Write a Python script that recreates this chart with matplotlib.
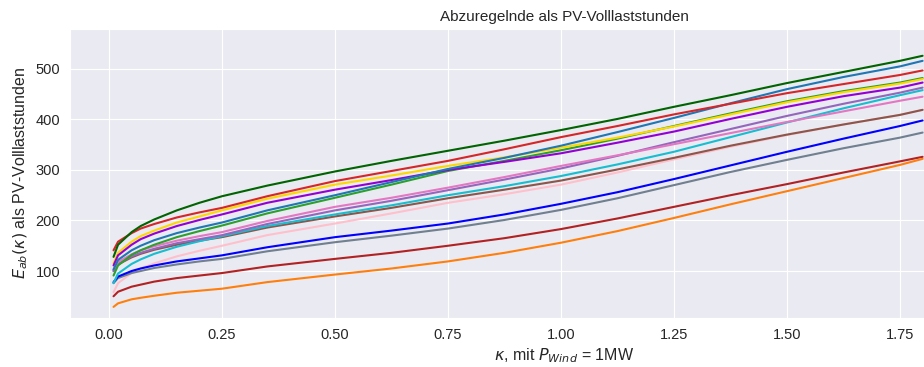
"""
Abzuregelnde Energie als PV-Volllaststunden ueber kappa
"""
import matplotlib
matplotlib.use('Agg')
import matplotlib.pyplot as plt
import seaborn as sns

# kappa sample points
kappa = [0.01, 0.02, 0.05, 0.07, 0.1, 0.15, 0.2, 0.25, 0.35, 0.5, 0.625, 0.75, 0.875,
         1.0, 1.125, 1.25, 1.375, 1.5, 1.625, 1.75, 1.80]

# E_ab(kappa) per curve
e_darkgreen = [128, 152, 177, 189, 202, 220, 235, 248, 269, 297, 318, 338, 358,
               379, 401, 425, 448, 472, 494, 516, 526]
e_red = [141, 158, 175, 184, 193, 206, 216, 225, 248, 278, 298, 318, 341,
         365, 387, 410, 431, 452, 470, 488, 497]
e_steelblue = [103, 122, 141, 150, 161, 175, 186, 196, 220, 250, 276, 302, 324,
               348, 375, 403, 432, 460, 484, 505, 516]
e_gold = [115, 136, 158, 169, 180, 196, 208, 220, 243, 271, 289, 308, 325,
          344, 364, 386, 410, 434, 454, 471, 480]
e_darkviolet = [111, 131, 152, 163, 174, 189, 201, 212, 235, 261, 280, 300, 316,
                333, 354, 376, 401, 425, 446, 463, 473]
e_green = [91, 111, 132, 141, 152, 167, 179, 190, 214, 245, 271, 298, 318,
           339, 362, 387, 412, 436, 456, 473, 482]
e_orchid = [103, 118, 133, 141, 149, 160, 169, 177, 199, 227, 245, 265, 286,
            308, 329, 351, 373, 395, 416, 437, 445]
e_mediumpurple = [100, 114, 129, 136, 144, 155, 163, 171, 193, 220, 239, 260, 281,
                  303, 328, 355, 381, 407, 431, 453, 463]
e_cyan = [76, 95, 114, 123, 134, 148, 159, 169, 189, 212, 230, 250, 268,
          288, 311, 336, 365, 394, 422, 448, 458]
e_brown = [100, 113, 127, 134, 142, 152, 160, 167, 186, 208, 225, 244, 261,
           279, 301, 324, 348, 370, 390, 409, 419]
e_pink = [58, 76, 96, 105, 115, 129, 140, 150, 171, 194, 214, 235, 252,
          271, 295, 321, 346, 369, 390, 409, 419]
e_blue = [78, 89, 100, 105, 111, 119, 125, 131, 147, 167, 180, 194, 212,
          233, 256, 282, 309, 336, 362, 387, 398]
e_gray = [76, 86, 96, 100, 106, 113, 119, 124, 139, 157, 170, 184, 201,
          221, 244, 270, 296, 320, 343, 364, 374]
e_firebrick = [50, 59, 69, 73, 79, 86, 91, 96, 109, 124, 136, 150, 165,
               183, 204, 227, 250, 272, 295, 317, 326]
e_orange = [29, 36, 44, 47, 51, 57, 61, 65, 78, 93, 105, 119, 136,
            156, 179, 205, 232, 258, 284, 310, 322]

series = [
    (e_pink, 'pink'),
    (e_brown, 'tab:brown'),
    (e_gray, 'slategray'),
    (e_blue, 'blue'),
    (e_cyan, 'tab:cyan'),
    (e_mediumpurple, 'tab:purple'),
    (e_orchid, 'tab:pink'),
    (e_green, 'tab:green'),
    (e_gold, 'gold'),
    (e_darkviolet, 'darkviolet'),
    (e_steelblue, 'tab:blue'),
    (e_red, 'tab:red'),
    (e_darkgreen, 'darkgreen'),
    (e_firebrick, 'firebrick'),
    (e_orange, 'tab:orange'),
]

sns.set_style('darkgrid')
plt.rcParams['font.family'] = ['Liberation Sans', 'DejaVu Sans']

fig = plt.figure(figsize=(9.24, 3.67), dpi=100)
# the reference is cut off at the right, so the axes run past the figure edge
ax = fig.add_axes([70 / 924, 49 / 367, 988 / 924, 289 / 367])

for values, color in series:
    ax.plot(kappa, values, color=color, linewidth=1.5)

ax.set_xlim(-0.0863, 2.0996)
ax.set_ylim(7, 579)
ax.set_xticks([0.0, 0.25, 0.5, 0.75, 1.0, 1.25, 1.5, 1.75])
ax.set_yticks([100, 200, 300, 400, 500])
ax.tick_params(labelsize=10.5)

ax.set_title('Abzuregelnde als PV-Volllaststunden', fontsize=11)
ax.set_xlabel(r'$\kappa$, mit $P_{Wind}$ = 1MW', fontsize=11.5, labelpad=3)
ax.set_ylabel(r'$E_{ab}(\kappa)$ als PV-Volllaststunden', fontsize=11.5)

fig.savefig('out.png', dpi=100)
plt.close()
